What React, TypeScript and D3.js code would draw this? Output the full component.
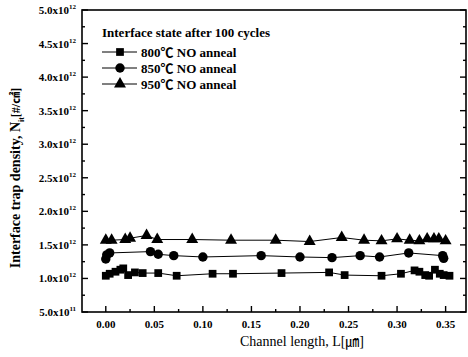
import React, { useEffect, useRef } from 'react';
import * as d3 from 'd3';

const WIDTH = 468;
const HEIGHT = 357;

// channel length (um) and Nit (x1e12 /cm2)
const len800 = [0.0, 0.004, 0.01, 0.015, 0.018, 0.023, 0.03, 0.038, 0.054, 0.073, 0.11, 0.131, 0.181, 0.23, 0.246, 0.284, 0.304, 0.318, 0.323, 0.329, 0.333, 0.339, 0.344, 0.348, 0.354];
const nit800 = [1.04, 1.07, 1.1, 1.13, 1.15, 1.05, 1.09, 1.08, 1.08, 1.04, 1.07, 1.07, 1.08, 1.09, 1.05, 1.04, 1.07, 1.12, 1.1, 1.05, 1.04, 1.13, 1.07, 1.05, 1.04];

const len850 = [0.0, 0.001, 0.004, 0.046, 0.054, 0.07, 0.1, 0.16, 0.2, 0.233, 0.262, 0.282, 0.312, 0.347, 0.348];
const nit850 = [1.29, 1.35, 1.38, 1.4, 1.36, 1.34, 1.32, 1.34, 1.32, 1.31, 1.34, 1.32, 1.38, 1.34, 1.3];

const len950 = [0.0, 0.006, 0.02, 0.025, 0.042, 0.053, 0.089, 0.129, 0.175, 0.21, 0.243, 0.266, 0.284, 0.3, 0.313, 0.323, 0.331, 0.338, 0.343, 0.35];
const nit950 = [1.57, 1.57, 1.58, 1.6, 1.64, 1.58, 1.58, 1.57, 1.57, 1.55, 1.61, 1.57, 1.56, 1.59, 1.57, 1.56, 1.59, 1.59, 1.59, 1.56];

const seriesNames = ['800\u2103 NO anneal', '850\u2103 NO anneal', '950\u2103 NO anneal'];
const xTicks = [0, 0.05, 0.1, 0.15, 0.2, 0.25, 0.3, 0.35];
const yTicks = [0.5, 1.0, 1.5, 2.0, 2.5, 3.0, 3.5, 4.0, 4.5, 5.0];

const SERIF = '"Liberation Serif", "Times New Roman", "DejaVu Serif", serif';
const CJK = '"Liberation Serif", "Noto Sans CJK KR", serif';

export default function App() {
  const svgRef = useRef<SVGSVGElement>(null);

  useEffect(() => {
    if (!svgRef.current) return;
    const svg = d3.select(svgRef.current);
    svg.selectAll('*').remove();

    const x = d3.scaleLinear().domain([-0.0245, 0.371]).range([82, 466]);
    const y = d3.scaleLinear().domain([0.5, 5.0]).range([312, 10]);

    const series = [
      { len: len800, nit: nit800, shape: d3.symbolSquare, size: 60 },
      { len: len850, nit: nit850, shape: d3.symbolCircle, size: 70 },
      { len: len950, nit: nit950, shape: d3.symbolTriangle, size: 62 },
    ];

    // frame
    svg.append('rect')
      .attr('x', 82).attr('y', 10)
      .attr('width', 384).attr('height', 302)
      .attr('fill', 'none').attr('stroke', '#000').attr('stroke-width', 1.6);

    // y ticks, left and right, major + minor
    const yMinor = d3.range(0.75, 5.0, 0.5);
    const tk = svg.append('g').attr('stroke', '#000').attr('stroke-width', 1.4);
    yTicks.forEach((v) => {
      tk.append('line').attr('x1', 82).attr('x2', 88).attr('y1', y(v)).attr('y2', y(v));
      tk.append('line').attr('x1', 466).attr('x2', 460).attr('y1', y(v)).attr('y2', y(v));
    });
    yMinor.forEach((v) => {
      tk.append('line').attr('x1', 82).attr('x2', 85).attr('y1', y(v)).attr('y2', y(v));
      tk.append('line').attr('x1', 466).attr('x2', 463).attr('y1', y(v)).attr('y2', y(v));
    });
    xTicks.forEach((v) => {
      tk.append('line').attr('x1', x(v)).attr('x2', x(v)).attr('y1', 312).attr('y2', 306);
    });
    d3.range(0.025, 0.35, 0.05).forEach((v) => {
      tk.append('line').attr('x1', x(v)).attr('x2', x(v)).attr('y1', 312).attr('y2', 309);
    });

    // y tick labels
    const yl = svg.append('g').attr('font-family', SERIF).attr('font-weight', 700).attr('font-size', 11);
    yTicks.forEach((v) => {
      const mant = v >= 1 ? v.toFixed(1) : (v * 10).toFixed(1);
      const exp = v >= 1 ? '12' : '11';
      const t = yl.append('text').attr('x', 76).attr('y', y(v) + 4).attr('text-anchor', 'end');
      t.append('tspan').text(`${mant}x10`);
      t.append('tspan').attr('dy', -5).attr('font-size', 7).text(exp);
    });

    // x tick labels
    svg.append('g')
      .selectAll('text')
      .data(xTicks)
      .enter()
      .append('text')
      .attr('x', (d) => x(d))
      .attr('y', 328)
      .attr('text-anchor', 'middle')
      .attr('font-family', SERIF)
      .attr('font-weight', 700)
      .attr('font-size', 11)
      .text((d) => d.toFixed(2));

    // axis titles
    svg.append('text')
      .attr('x', 302).attr('y', 346)
      .attr('text-anchor', 'middle')
      .attr('font-family', CJK)
      .attr('font-size', 14)
      .text('Channel length, L[\u339B]');

    const yt = svg.append('text')
      .attr('transform', 'translate(20,178) rotate(-90)')
      .attr('text-anchor', 'middle')
      .attr('font-family', CJK)
      .attr('font-weight', 700)
      .attr('font-size', 14);
    yt.append('tspan').text('Interface trap density, N');
    yt.append('tspan').attr('dy', 4).attr('font-size', 8).text('it');
    yt.append('tspan').attr('dy', -4).attr('font-size', 12).text('[#/\u33A0]');

    // lines + markers
    series.forEach((s) => {
      const pts = s.len.map((l, i) => [l, s.nit[i]] as [number, number]);
      const line = d3.line<[number, number]>().x((d) => x(d[0])).y((d) => y(d[1]));
      svg.append('path')
        .attr('d', line(pts) as string)
        .attr('fill', 'none')
        .attr('stroke', '#000')
        .attr('stroke-width', 1);
      svg.append('g')
        .selectAll('path')
        .data(pts)
        .enter()
        .append('path')
        .attr('transform', (d) => `translate(${x(d[0])},${y(d[1])})`)
        .attr('d', d3.symbol().type(s.shape).size(s.size)() as string)
        .attr('fill', '#000');
    });

    // legend
    const lg = svg.append('g').attr('font-family', SERIF).attr('font-weight', 700);
    lg.append('text').attr('x', 102).attr('y', 37).attr('font-size', 13).text('Interface state after 100 cycles');
    series.forEach((s, i) => {
      const cy = 52 + i * 16;
      lg.append('line').attr('x1', 102).attr('x2', 137).attr('y1', cy).attr('y2', cy)
        .attr('stroke', '#000').attr('stroke-width', 1);
      lg.append('path')
        .attr('transform', `translate(120,${cy})`)
        .attr('d', d3.symbol().type(s.shape).size(s.size)() as string)
        .attr('fill', '#000');
      lg.append('text').attr('x', 141).attr('y', cy + 5).attr('font-size', 13)
        .attr('font-family', CJK)
        .text(seriesNames[i]);
    });
  }, []);

  return (
    <svg
      ref={svgRef}
      width={WIDTH}
      height={HEIGHT}
      style={{ position: 'absolute', left: 0, top: 0, background: '#fff' }}
    />
  );
}
